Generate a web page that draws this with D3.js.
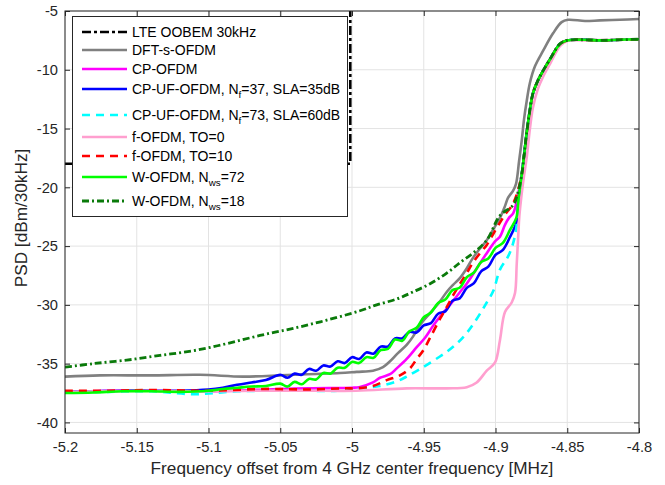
<!DOCTYPE html>
<html>
<head>
<meta charset="utf-8">
<script src="https://cdn.jsdelivr.net/npm/d3@7"></script>
<style>
  html, body { margin: 0; padding: 0; background: #fff; }
  svg { display: block; font-family: "Liberation Sans", Arial, Helvetica, sans-serif; }
</style>
</head>
<body>
<svg id="chart" width="665" height="485"></svg>
<script>
// ---------------- DATA ----------------
const xTicks = [-5.2, -5.15, -5.1, -5.05, -5, -4.95, -4.9, -4.85, -4.8];
const yTicks = [-40, -35, -30, -25, -20, -15, -10, -5];
const xLabel = "Frequency offset from 4 GHz center frequency [MHz]";
const yLabel = "PSD [dBm/30kHz]";

// LTE out-of-band emission mask
const lteMask = [[-5.2, -18], [-5.0012, -18], [-5.0012, 10]];

// Common in-band rise / plateau (MHz, dB)
const upperBand = [[-4.8817, -18.9], [-4.8801, -17.3], [-4.8783, -15.4], [-4.8760, -13.4],
  [-4.8739, -12.0], [-4.8704, -10.9], [-4.8669, -10.1], [-4.8620, -9.1], [-4.8551, -7.8],
  [-4.8502, -7.5], [-4.8376, -7.45], [-4.8272, -7.5], [-4.8132, -7.45], [-4.8, -7.4]];

const dftS = [[-5.2, -36.1], [-5.1756, -36.0], [-5.1408, -36.0], [-5.106, -35.95], [-5.076, -36.1],
  [-5.05, -36.0], [-5.0316, -35.9], [-5.0084, -35.8], [-4.9967, -35.7], [-4.9854, -35.6],
  [-4.9784, -35.3], [-4.9735, -34.8], [-4.968, -34.1], [-4.9619, -33.4], [-4.9575, -32.7],
  [-4.9526, -31.7], [-4.9456, -30.7], [-4.9387, -29.7], [-4.934, -28.9], [-4.9296, -28.3],
  [-4.9247, -27.7], [-4.9201, -26.9], [-4.9157, -26.0], [-4.9108, -25.2], [-4.9061, -24.5],
  [-4.9017, -23.6], [-4.8969, -22.6], [-4.8934, -21.6], [-4.8913, -20.9], [-4.8878, -20.3],
  [-4.8857, -19.7], [-4.8836, -17.8], [-4.8817, -16.0], [-4.8801, -14.2], [-4.8783, -12.7],
  [-4.876, -11.1], [-4.8725, -9.7], [-4.8669, -8.4], [-4.8599, -6.9], [-4.8539, -5.95],
  [-4.8495, -5.75], [-4.8376, -5.85], [-4.8272, -5.8], [-4.8132, -5.75], [-4.8, -5.68]];

const cpOfdm = [[-5.2, -37.4], [-5.17, -37.3], [-5.14, -37.3], [-5.1, -37.35], [-5.06, -37.2],
  [-5.03, -37.1], [-5.0, -37.05], [-4.995, -37.0], [-4.9854, -36.6], [-4.9805, -36.2],
  [-4.9735, -35.9], [-4.9688, -35.4], [-4.9619, -34.6], [-4.9549, -33.6], [-4.9491, -32.8],
  [-4.9436, -31.8], [-4.9387, -31.0], [-4.9317, -30.0], [-4.9247, -28.9], [-4.9201, -28.2],
  [-4.9131, -26.9], [-4.9061, -25.6], [-4.9003, -24.6], [-4.8969, -24.2], [-4.8934, -23.2],
  [-4.8906, -22.6], [-4.8876, -22.2], [-4.8841, -20.5]];

const cpUf37 = [[-5.2, -37.4], [-5.18, -37.35], [-5.16, -37.3], [-5.14, -37.3], [-5.12, -37.3],
  [-5.1, -37.2], [-5.09, -37.05], [-5.08, -36.8], [-5.07, -36.6], [-5.06, -36.4],
  [-5.05, -35.95], [-5.045, -36.2], [-5.04, -35.85], [-5.035, -35.95], [-5.03, -35.45],
  [-5.025, -35.6], [-5.02, -35.15], [-5.015, -35.25], [-5.01, -34.8], [-5.005, -34.95],
  [-5.0, -34.45], [-4.995, -34.6], [-4.99, -34.05], [-4.985, -34.15], [-4.98, -33.55],
  [-4.975, -33.55], [-4.97, -32.85], [-4.965, -32.85], [-4.96, -32.3], [-4.955, -32.35],
  [-4.95, -31.75], [-4.945, -31.55], [-4.94, -30.75], [-4.935, -30.55], [-4.93, -29.65],
  [-4.925, -29.45], [-4.92, -28.55], [-4.915, -28.15], [-4.91, -27.15], [-4.905, -26.75],
  [-4.9, -25.75], [-4.895, -25.35], [-4.89, -24.25], [-4.8855, -23.0], [-4.884, -21.2]];

const cpUf73 = [[-5.2, -37.4], [-5.17, -37.4], [-5.14, -37.35], [-5.11, -37.6], [-5.08, -37.35],
  [-5.04, -37.3], [-5.01, -37.3], [-4.9944, -37.1], [-4.9805, -36.9], [-4.9688, -36.5],
  [-4.9619, -36.1], [-4.9505, -35.3], [-4.9401, -34.5], [-4.934, -34.0], [-4.927, -33.3],
  [-4.9201, -32.4], [-4.9131, -31.2], [-4.9061, -29.8], [-4.9015, -28.8], [-4.8969, -27.0],
  [-4.8913, -25.9], [-4.8876, -24.7], [-4.8852, -23.2], [-4.8841, -21.2]];

const fOfdm0 = [[-5.2, -37.4], [-5.176, -37.35], [-5.141, -37.3], [-5.106, -37.35], [-5.064, -37.3],
  [-5.032, -37.3], [-4.997, -37.3], [-4.962, -37.1], [-4.934, -37.1], [-4.92, -37.0],
  [-4.9131, -36.6], [-4.9061, -35.6], [-4.9003, -34.9], [-4.8969, -33.0], [-4.8934, -30.6],
  [-4.8887, -29.8], [-4.8864, -29.0], [-4.8852, -26.5], [-4.8841, -24.0], [-4.8834, -22.5],
  [-4.8817, -20.5], [-4.8801, -19.0], [-4.8783, -17.5], [-4.876, -15.0], [-4.8739, -13.2],
  [-4.8704, -11.6], [-4.8669, -10.6], [-4.862, -9.5], [-4.8551, -8.0], [-4.8502, -7.55],
  [-4.8376, -7.5], [-4.8132, -7.45], [-4.8, -7.45]];

const fOfdm10 = [[-5.2, -37.3], [-5.17, -37.3], [-5.14, -37.25], [-5.1, -37.3], [-5.06, -37.15],
  [-5.03, -37.2], [-5.005, -37.1], [-4.997, -37.1], [-4.9854, -36.9], [-4.9758, -36.4],
  [-4.9666, -36.0], [-4.9596, -35.4], [-4.9549, -34.6], [-4.9505, -33.9], [-4.9456, -32.8],
  [-4.9387, -31.2], [-4.934, -30.2], [-4.9296, -29.2], [-4.9247, -28.2], [-4.9201, -27.3],
  [-4.9157, -26.4], [-4.9108, -25.6], [-4.9061, -24.9], [-4.9017, -24.0], [-4.8969, -23.0],
  [-4.8927, -22.2], [-4.8887, -21.6], [-4.8852, -20.6]];

const wOfdm72 = [[-5.2, -37.5], [-5.18, -37.45], [-5.16, -37.35], [-5.14, -37.35], [-5.12, -37.4],
  [-5.1, -37.3], [-5.09, -37.15], [-5.08, -37.05], [-5.07, -36.95], [-5.06, -36.9],
  [-5.05, -36.7], [-5.045, -36.95], [-5.04, -36.55], [-5.035, -36.75], [-5.03, -36.3],
  [-5.025, -36.35], [-5.02, -35.8], [-5.015, -35.85], [-5.01, -35.35], [-5.005, -35.35],
  [-5.0, -34.85], [-4.995, -34.95], [-4.99, -34.45], [-4.985, -34.5], [-4.98, -33.85],
  [-4.975, -33.75], [-4.97, -32.95], [-4.965, -33.05], [-4.96, -32.25], [-4.955, -31.95],
  [-4.95, -31.05], [-4.945, -30.65], [-4.94, -29.85], [-4.935, -29.55], [-4.93, -28.75],
  [-4.925, -28.55], [-4.92, -27.65], [-4.915, -27.25], [-4.91, -26.35], [-4.905, -26.05],
  [-4.9, -25.15], [-4.895, -24.75], [-4.89, -23.65], [-4.8855, -22.6], [-4.884, -21.0]];

const wOfdm18 = [[-5.2, -35.3], [-5.1803, -35.0], [-5.157, -34.7], [-5.1338, -34.3], [-5.1106, -33.9],
  [-5.0873, -33.3], [-5.0641, -32.6], [-5.0409, -32.0], [-5.0176, -31.3], [-4.9944, -30.5],
  [-4.9828, -30.0], [-4.9688, -29.5], [-4.9575, -28.9], [-4.9456, -28.2], [-4.934, -27.3],
  [-4.9247, -26.4], [-4.9157, -25.6], [-4.9061, -24.5], [-4.8969, -22.4], [-4.8876, -21.5],
  [-4.8843, -20.4]];

const seriesNames = ["LTE OOBEM 30kHz", "DFT-s-OFDM", "CP-OFDM", "CP-UF-OFDM, N|f|=37, SLA=35dB",
  "CP-UF-OFDM, N|f|=73, SLA=60dB", "f-OFDM, TO=0", "f-OFDM, TO=10", "W-OFDM, N|ws|=72", "W-OFDM, N|ws|=18"];

// ---------------- STYLE ----------------
const styles = [
  { color: "#000000", dash: "9,3,3,3", w: 2.6 },
  { color: "#808080", dash: null, w: 2.6 },
  { color: "#ff00ff", dash: null, w: 2.6 },
  { color: "#0000ff", dash: null, w: 2.6 },
  { color: "#00ffff", dash: "8,6", w: 2.6 },
  { color: "#ff9fcf", dash: null, w: 2.6 },
  { color: "#ff0000", dash: "8,6", w: 2.6 },
  { color: "#00ff00", dash: null, w: 2.6 },
  { color: "#0a7a0a", dash: "7,3,2,3", w: 2.8 }
];

const seriesData = [
  lteMask, dftS, cpOfdm.concat(upperBand), cpUf37.concat(upperBand), cpUf73.concat(upperBand),
  fOfdm0, fOfdm10.concat(upperBand), wOfdm72.concat(upperBand), wOfdm18.concat(upperBand)
];

// ---------------- LAYOUT ----------------
const L = 65, R = 639, T = 11, B = 433;
const x = d3.scaleLinear().domain([-5.2, -4.8]).range([L, R]);
const y = d3.scaleLinear().domain([-40.9, -5]).range([B, T]);
const axisColor = "#262626";
const fmt = d => String(+d.toFixed(2));

const svg = d3.select("#chart");

svg.append("defs").append("clipPath").attr("id", "plotclip")
  .append("rect").attr("x", L).attr("y", T).attr("width", R - L).attr("height", B - T);

// grid
const grid = svg.append("g");
grid.selectAll(".gx").data(xTicks).join("line")
  .attr("x1", d => x(d)).attr("x2", d => x(d)).attr("y1", T).attr("y2", B)
  .attr("stroke", "#e3e3e3").attr("stroke-width", 1);
grid.selectAll(".gy").data(yTicks).join("line")
  .attr("x1", L).attr("x2", R).attr("y1", d => y(d)).attr("y2", d => y(d))
  .attr("stroke", "#e3e3e3").attr("stroke-width", 1);

// series
const line = d3.line().x(d => x(d[0])).y(d => y(d[1])).curve(d3.curveCatmullRom.alpha(0.5));
const lineLin = d3.line().x(d => x(d[0])).y(d => y(d[1]));
const plot = svg.append("g").attr("clip-path", "url(#plotclip)");
seriesData.forEach((data, i) => {
  plot.append("path")
    .attr("d", i === 0 ? lineLin(data) : line(data))
    .attr("fill", "none")
    .attr("stroke", styles[i].color)
    .attr("stroke-width", styles[i].w)
    .attr("stroke-linejoin", "round")
    .attr("stroke-dasharray", styles[i].dash);
});

// axes
const xAxisB = d3.axisBottom(x).tickValues(xTicks).tickFormat(fmt).tickSizeInner(-5).tickSizeOuter(0).tickPadding(9);
const xAxisT = d3.axisTop(x).tickValues(xTicks).tickFormat("").tickSizeInner(-5).tickSizeOuter(0);
const yAxisL = d3.axisLeft(y).tickValues(yTicks).tickFormat(fmt).tickSizeInner(-5).tickSizeOuter(0).tickPadding(7);
const yAxisR = d3.axisRight(y).tickValues(yTicks).tickFormat("").tickSizeInner(-5).tickSizeOuter(0);

function styleAxis(g) {
  g.select(".domain").remove();
  g.selectAll("line").attr("stroke", axisColor);
  g.selectAll("text").attr("fill", axisColor).style("font-size", "14.7px")
    .style("font-family", "'Liberation Sans', Arial, sans-serif");
}
svg.append("g").attr("transform", `translate(0,${B})`).call(xAxisB).call(styleAxis);
svg.append("g").attr("transform", `translate(0,${T})`).call(xAxisT).call(styleAxis);
svg.append("g").attr("transform", `translate(${L},0)`).call(yAxisL).call(styleAxis);
svg.append("g").attr("transform", `translate(${R},0)`).call(yAxisR).call(styleAxis);

svg.append("rect").attr("x", L).attr("y", T).attr("width", R - L).attr("height", B - T)
  .attr("fill", "none").attr("stroke", axisColor).attr("stroke-width", 1);

// labels
svg.append("text").attr("x", 352).attr("y", 474).attr("text-anchor", "middle")
  .attr("fill", axisColor).style("font-size", "17.2px").text(xLabel);
svg.append("text").attr("transform", `translate(27,218) rotate(-90)`)
  .attr("text-anchor", "middle").attr("fill", axisColor).style("font-size", "17.2px").text(yLabel);

// legend
const legend = svg.append("g");
legend.append("rect").attr("x", 72.5).attr("y", 16.5).attr("width", 275).attr("height", 200)
  .attr("fill", "#ffffff").attr("stroke", axisColor).attr("stroke-width", 1);
const rowY = [32, 50, 69, 89, 115, 137, 156, 177, 201];
seriesNames.forEach((name, i) => {
  const yy = rowY[i];
  legend.append("line").attr("x1", 82).attr("x2", 127).attr("y1", yy).attr("y2", yy)
    .attr("stroke", styles[i].color).attr("stroke-width", styles[i].w)
    .attr("stroke-dasharray", styles[i].dash);
  const t = legend.append("text").attr("x", 132).attr("y", yy + 5)
    .attr("fill", "#000").style("font-size", "14px");
  const parts = name.split("|");
  if (parts.length === 1) { t.text(name); }
  else {
    t.append("tspan").text(parts[0]);
    t.append("tspan").attr("dy", 4).style("font-size", "9.8px").text(parts[1]);
    t.append("tspan").attr("dy", -4).text(parts[2]);
  }
});
</script>
</body>
</html>
